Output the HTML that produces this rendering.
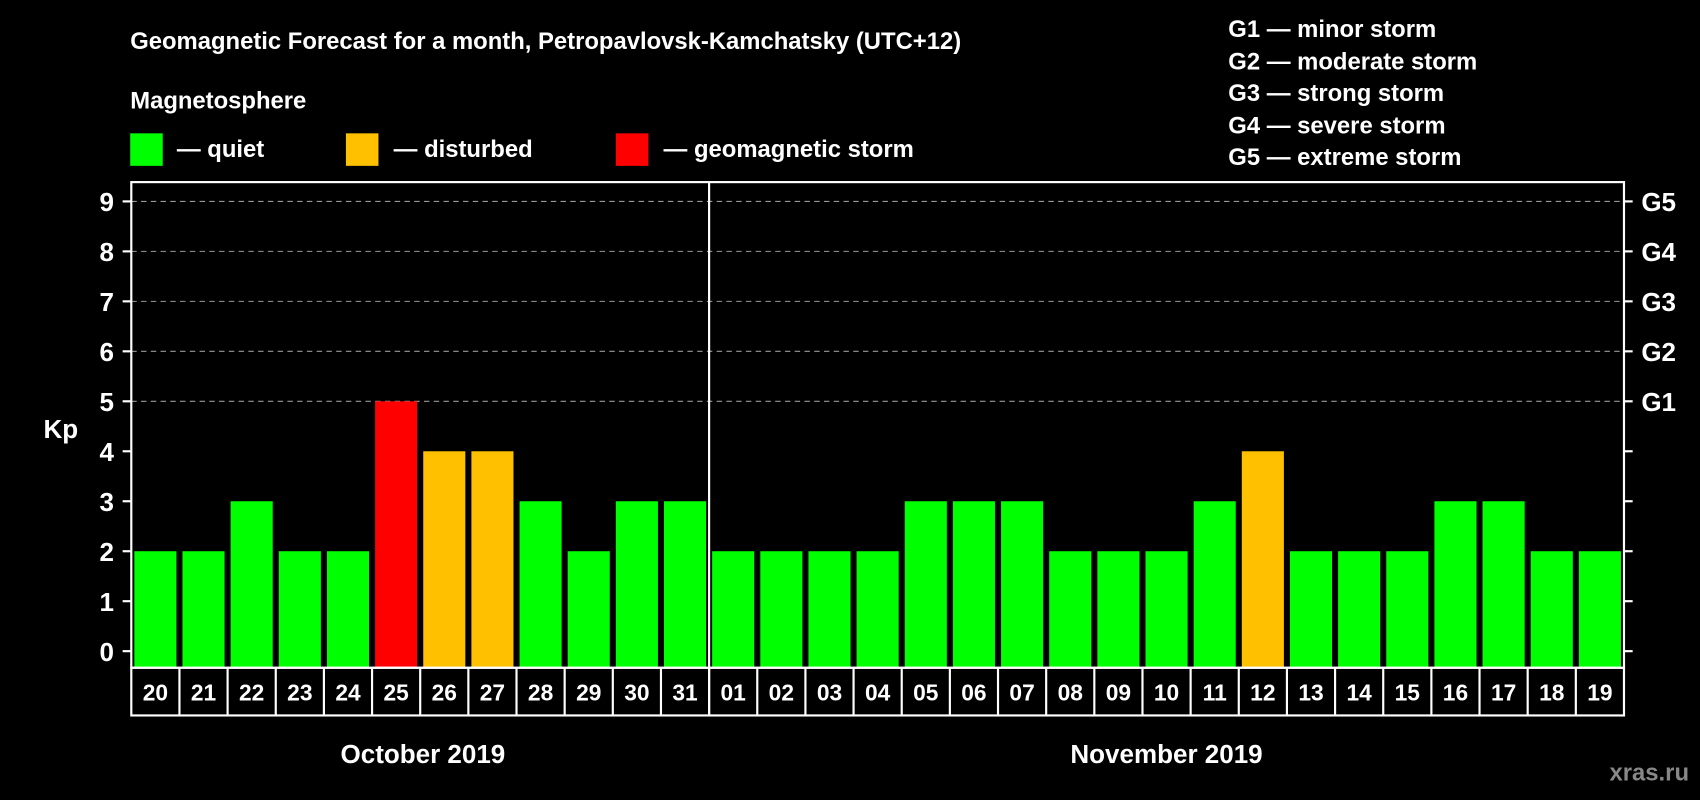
<!DOCTYPE html>
<html><head><meta charset="utf-8"><style>
html,body{margin:0;padding:0;background:#000;}
svg{display:block;font-family:"Liberation Sans",Arial,sans-serif;font-weight:bold;}
</style></head><body>
<svg id="chart" width="1700" height="800" viewBox="0 0 1568 738" xmlns="http://www.w3.org/2000/svg">
<rect width="1568" height="738" fill="#000"/>
<text x="120" y="45" fill="#fff" font-size="22">Geomagnetic Forecast for a month, Petropavlovsk-Kamchatsky (UTC+12)</text>
<text x="120" y="100" fill="#fff" font-size="22">Magnetosphere</text>
<rect x="120" y="123" width="30" height="30" fill="#00ff00"/>
<text x="163" y="145" fill="#fff" font-size="22">— quiet</text>
<rect x="319" y="123" width="30" height="30" fill="#ffc000"/>
<text x="363" y="145" fill="#fff" font-size="22">— disturbed</text>
<rect x="568" y="123" width="30" height="30" fill="#ff0000"/>
<text x="612" y="145" fill="#fff" font-size="22">— geomagnetic storm</text>
<g fill="#fff" font-size="22">
<text x="1133" y="34">G1 — minor storm</text>
<text x="1133" y="64">G2 — moderate storm</text>
<text x="1133" y="93">G3 — strong storm</text>
<text x="1133" y="123">G4 — severe storm</text>
<text x="1133" y="152">G5 — extreme storm</text>
</g>
<text x="40" y="404" fill="#fff" font-size="24">Kp</text>
<g id="grid"></g><g id="bars"></g><g id="axes"></g>
<text x="390" y="704" fill="#fff" font-size="24" text-anchor="middle">October 2019</text>
<text x="1076" y="704" fill="#fff" font-size="24" text-anchor="middle">November 2019</text>
<text x="1558" y="720" fill="#888" font-size="22" text-anchor="end">xras.ru</text>
</svg>
<script>
const days=["20","21","22","23","24","25","26","27","28","29","30","31","01","02","03","04","05","06","07","08","09","10","11","12","13","14","15","16","17","18","19"];
const kpValues=[2,2,3,2,2,5,4,4,3,2,3,3,2,2,2,2,3,3,3,2,2,2,3,4,2,2,2,3,3,2,2];
const yTicks=[0,1,2,3,4,5,6,7,8,9];
const gLabels=["G1","G2","G3","G4","G5"];
const NS="http://www.w3.org/2000/svg";
const L=121,R=1498,T=168,B=616,Y0=600.7,U=46.1;
const slot=(R-L)/days.length;
const y=v=>Y0-v*U;
const x=i=>L+i*slot;
function mk(tag,attrs,parent,txt){const e=document.createElementNS(NS,tag);for(const k in attrs)e.setAttribute(k,attrs[k]);if(txt!==undefined)e.textContent=txt;parent.appendChild(e);return e;}
const grid=document.getElementById('grid'),bars=document.getElementById('bars'),axes=document.getElementById('axes');
yTicks.forEach(v=>{
 if(v>=5){const g=mk('line',{x1:L,x2:R,y1:y(v),y2:y(v),stroke:'#999','stroke-dasharray':'5,4','stroke-width':1},grid);
 
 }
 const t=mk('line',{x1:L-8,x2:L,y1:y(v),y2:y(v),stroke:'#fff','stroke-width':2},axes);
 
 
 const t2=mk('line',{x1:R,x2:R+8,y1:y(v),y2:y(v),stroke:'#fff','stroke-width':2},axes);
 
 
 const lb=mk('text',{x:105,y:y(v)+9,fill:'#fff','font-size':24,'text-anchor':'end'},axes,String(v));
 
 
});
gLabels.forEach((g,i)=>{
 const lb=mk('text',{x:1514,y:y(5+i)+9,fill:'#fff','font-size':24},axes,g);
 
 
});
kpValues.forEach((v,i)=>{
 const c=v>=5?'#ff0000':(v>=4?'#ffc000':'#00ff00');
 const b=mk('rect',{x:x(i)+2.8,y:y(v),width:slot-5.6,height:B-y(v),fill:c},bars);
 
 
 const d=mk('text',{x:x(i)+slot/2,y:646,fill:'#fff','font-size':21,'text-anchor':'middle'},axes,days[i]);
 
 
 if(i>0){const s=mk('line',{x1:x(i),x2:x(i),y1:B,y2:660,stroke:'#fff','stroke-width':2},axes);
 
 }
});
const fr=mk('rect',{x:L,y:T,width:R-L,height:B-T,fill:'none',stroke:'#fff','stroke-width':2},axes);


const dr=mk('rect',{x:L,y:B,width:R-L,height:660-B,fill:'none',stroke:'#fff','stroke-width':2},axes);


const mi=days.indexOf("01");
const md=mk('line',{x1:x(mi),x2:x(mi),y1:T,y2:660,stroke:'#fff','stroke-width':2},axes);


</script>
</body></html>
